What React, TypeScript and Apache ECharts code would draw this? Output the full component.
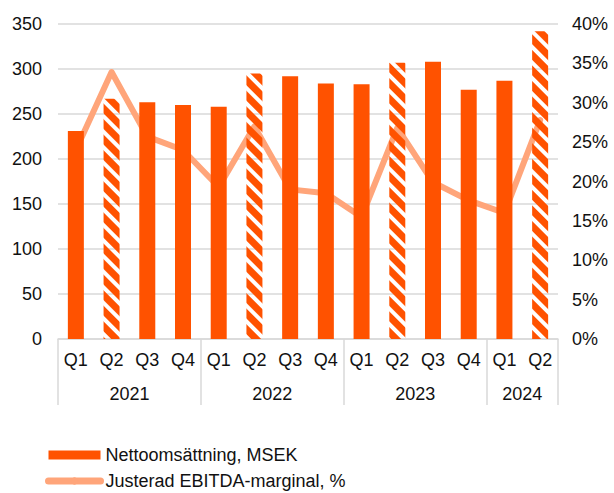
import React, { useEffect, useRef } from 'react';
import * as echarts from 'echarts';

const quarters = ['Q1', 'Q2', 'Q3', 'Q4', 'Q1', 'Q2', 'Q3', 'Q4', 'Q1', 'Q2', 'Q3', 'Q4', 'Q1', 'Q2'];
const years = ['2021', '2022', '2023', '2024'];
const quartersPerYear = [4, 4, 4, 2];
const netSales = [231, 267, 263, 260, 258, 295, 292, 284, 283, 307, 308, 277, 287, 342];
const ebitdaMargin = [24.0, 33.9, 25.7, 24.0, 19.3, 27.0, 19.0, 18.5, 15.5, 26.8, 19.9, 17.6, 16.0, 27.8];
const hatchedIdx = [1, 5, 9, 13];
const seriesNames = ['Nettoomsättning, MSEK', 'Justerad EBITDA-marginal, %'];

const FONT = '"Liberation Sans", Arial, sans-serif';
const TEXT = '#111111';
const GRID = '#d9d9d9';
const BAR = '#FF5200';
const LINE = '#FFA57A';

export default function App() {
  const ref = useRef<HTMLDivElement>(null);

  useEffect(() => {
    document.body.style.margin = '0';
    if (!ref.current) return;
    const chart = echarts.init(ref.current, null, { renderer: 'svg' });

    // group boundaries and centers (in quarter units)
    const boundaries: number[] = [];
    const centers: number[] = [];
    let acc = 0;
    quartersPerYear.forEach((n) => {
      boundaries.push(acc);
      centers.push(acc + n / 2);
      acc += n;
    });

    const barData = netSales.map((v, i) =>
      hatchedIdx.includes(i)
        ? {
            value: v,
            itemStyle: {
              color: 'rgba(0,0,0,0)',
              decal: {
                symbol: 'rect',
                symbolSize: 1,
                color: BAR,
                backgroundColor: 'rgba(0,0,0,0)',
                dashArrayX: [1, 0],
                dashArrayY: [6.5, 3.5],
                rotation: Math.PI / 4,
              },
            },
          }
        : v
    );

    chart.setOption({
      animation: false,
      textStyle: { fontFamily: FONT },
      grid: { left: 58, right: 56, top: 24, bottom: 154, containLabel: false },
      legend: {
        orient: 'vertical',
        left: 45,
        top: 446,
        height: 80,
        padding: 0,
        itemWidth: 52,
        itemHeight: 9,
        itemGap: 8,
        textStyle: { fontSize: 18, color: TEXT, fontFamily: FONT },
        data: [
          { name: seriesNames[0], icon: 'rect' },
          { name: seriesNames[1], lineStyle: { width: 7, cap: 'round' } },
        ],
      },
      xAxis: [
        {
          type: 'category',
          data: quarters,
          position: 'bottom',
          boundaryGap: true,
          axisLine: { show: true, lineStyle: { color: GRID, width: 1.5 } },
          axisTick: {
            show: true,
            interval: (i: number) => boundaries.includes(i),
            length: 66,
            lineStyle: { color: GRID, width: 1.5 },
          },
          axisLabel: { interval: 0, margin: 12, fontSize: 18, color: TEXT, fontFamily: FONT },
          splitLine: { show: false },
        },
        {
          type: 'value',
          position: 'bottom',
          min: 0,
          max: acc,
          interval: 1,
          axisLine: { show: false },
          axisTick: { show: false },
          splitLine: { show: false },
          axisLabel: {
            margin: 46,
            fontSize: 18,
            color: TEXT,
            fontFamily: FONT,
            formatter: (v: number) => {
              const k = centers.indexOf(v);
              return k >= 0 ? years[k] : '';
            },
          },
        },
      ],
      yAxis: [
        {
          type: 'value',
          min: 0,
          max: 350,
          interval: 50,
          axisLine: { show: false },
          axisTick: { show: false },
          axisLabel: { margin: 16, fontSize: 18, color: TEXT, fontFamily: FONT },
          splitLine: { show: true, lineStyle: { color: GRID, width: 1.5 } },
        },
        {
          type: 'value',
          min: 0,
          max: 40,
          interval: 5,
          position: 'right',
          axisLine: { show: false },
          axisTick: { show: false },
          axisLabel: { margin: 14, fontSize: 18, color: TEXT, fontFamily: FONT, formatter: '{value}%' },
          splitLine: { show: false },
        },
      ],
      series: [
        {
          name: seriesNames[0],
          type: 'bar',
          xAxisIndex: 0,
          yAxisIndex: 0,
          barWidth: 16,
          itemStyle: { color: BAR },
          data: barData,
          z: 3,
        },
        {
          name: seriesNames[1],
          type: 'line',
          xAxisIndex: 0,
          yAxisIndex: 1,
          symbol: 'none',
          lineStyle: { color: LINE, width: 6, cap: 'round', join: 'round' },
          itemStyle: { color: LINE },
          data: ebitdaMargin,
          z: 1,
        },
      ],
    });

    return () => chart.dispose();
  }, []);

  return <div ref={ref} style={{ width: 614, height: 493 }} />;
}
